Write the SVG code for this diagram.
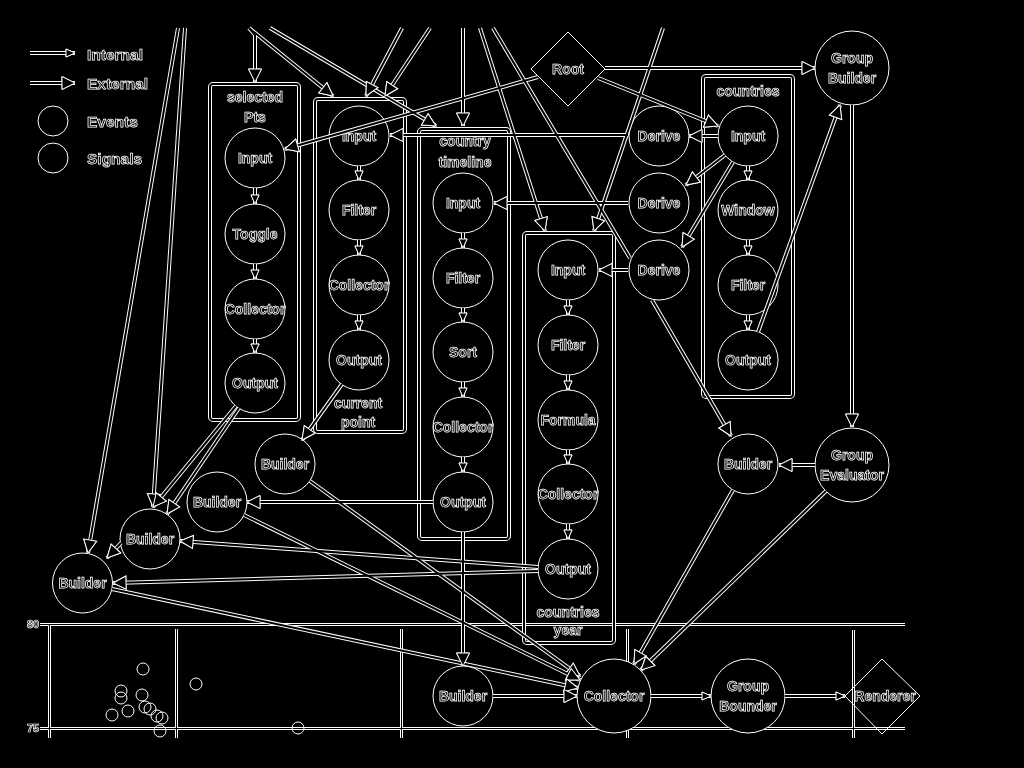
<svg xmlns="http://www.w3.org/2000/svg" xmlns:xlink="http://www.w3.org/1999/xlink" width="1024" height="768" viewBox="0 0 1024 768">
<defs>
<style>
.o{stroke:#fff;stroke-width:4;fill:none}
.i{stroke:#000;stroke-width:2;fill:none}
.co{stroke:#fff;stroke-width:3;fill:none}
.ci{stroke:#000;stroke-width:1;fill:none}
.n{fill:#000;stroke:#fff;stroke-width:1}
.dot{fill:none;stroke:#fff;stroke-width:1}
.t{font-family:"Liberation Sans",Arial,sans-serif;font-weight:bold;font-size:14px;fill:#000;stroke:#fff;stroke-width:0.75;text-anchor:middle;filter:url(#gray)}
.lg{font-family:"Liberation Sans",Arial,sans-serif;font-weight:bold;font-size:15.5px;fill:#000;stroke:#fff;stroke-width:0.75;filter:url(#gray)}
.ax{font-family:"Liberation Sans",Arial,sans-serif;font-weight:bold;font-size:11px;fill:#000;stroke:#fff;stroke-width:0.7;text-anchor:middle;filter:url(#gray)}
</style>
<filter id="gray" x="-20%" y="-40%" width="140%" height="180%" color-interpolation-filters="sRGB"><feColorMatrix type="saturate" values="0"/></filter>
<marker id="ext" markerUnits="userSpaceOnUse" markerWidth="14" markerHeight="14" refX="13" refY="7" orient="auto" overflow="visible"><polygon points="0,0.5 13,7 0,13.5" fill="#000" stroke="#fff" stroke-width="1"/></marker>
<marker id="int" markerUnits="userSpaceOnUse" markerWidth="10" markerHeight="10" refX="9" refY="4" orient="auto" overflow="visible"><polygon points="0,0 9,4 0,8" fill="#000" stroke="#fff" stroke-width="1"/></marker>
</defs>
<rect width="1024" height="768" fill="#000"/>

<!-- chart -->
<g class="co"><g id="chart-lines">
<path d="M40,624.5 L905,624.5"/>
<path d="M40,728.5 L905,728.5"/>
<path d="M49.5,624 L49.5,738"/>
<path d="M176.5,629 L176.5,738"/>
<path d="M401.5,629 L401.5,738"/>
<path d="M627.5,629 L627.5,738"/>
<path d="M853.5,630 L853.5,738"/>
</g></g>
<use href="#chart-lines" xlink:href="#chart-lines" class="ci"/>
<g id="chart-marks">
<circle class="dot" cx="143" cy="669" r="6"/>
<circle class="dot" cx="196" cy="684" r="6"/>
<circle class="dot" cx="121" cy="691" r="6"/>
<circle class="dot" cx="142" cy="695" r="6"/>
<circle class="dot" cx="121" cy="698" r="6"/>
<circle class="dot" cx="128" cy="711" r="6"/>
<circle class="dot" cx="112" cy="715" r="6"/>
<circle class="dot" cx="145" cy="707" r="6"/>
<circle class="dot" cx="150" cy="709" r="6"/>
<circle class="dot" cx="157" cy="716" r="6"/>
<circle class="dot" cx="162" cy="718" r="6"/>
<circle class="dot" cx="160" cy="731" r="6"/>
<circle class="dot" cx="298" cy="728" r="6"/>
<text class="ax" x="33" y="628">80</text>
<text class="ax" x="33" y="732">75</text>
</g>

<!-- legend -->
<g class="o"><g id="legend-lines">
<path d="M30,53 L75,53" marker-end="url(#int)"/>
<path d="M30,83 L75,83" marker-end="url(#ext)"/>
</g></g>
<use href="#legend-lines" xlink:href="#legend-lines" class="i"/>
<g id="legend">
<circle class="dot" cx="53" cy="121" r="15"/>
<circle class="dot" cx="53" cy="158" r="15"/>
<text class="lg" x="87" y="60">Internal</text>
<text class="lg" x="87" y="89">External</text>
<text class="lg" x="87" y="127">Events</text>
<text class="lg" x="87" y="164">Signals</text>
</g>

<!-- boxes -->
<g class="o"><g id="boxes">
<rect x="210" y="84" width="89" height="336" rx="3"/>
<rect x="315" y="99" width="90" height="333" rx="3"/>
<rect x="419" y="129" width="90" height="410" rx="3"/>
<rect x="524" y="233" width="90" height="410" rx="3"/>
<rect x="703" y="76" width="90" height="321" rx="3"/>
</g></g>
<use href="#boxes" xlink:href="#boxes" class="i"/>
<g id="box-labels">
<text class="t" x="255" y="102">selected</text>
<text class="t" x="255" y="122">Pts</text>
<text class="t" x="358" y="408">current</text>
<text class="t" x="358" y="427">point</text>
<text class="t" x="465" y="146">country</text>
<text class="t" x="465" y="167">timeline</text>
<text class="t" x="568" y="617">countries</text>
<text class="t" x="568" y="635">year</text>
<text class="t" x="748" y="96">countries</text>
</g>

<!-- nodes -->
<g id="n-sel-input"><circle class="n" cx="255" cy="158" r="30"/><text class="t" x="255" y="163">Input</text></g>
<g id="n-sel-toggle"><circle class="n" cx="255" cy="234" r="30"/><text class="t" x="255" y="239">Toggle</text></g>
<g id="n-sel-collector"><circle class="n" cx="255" cy="309" r="30"/><text class="t" x="255" y="314">Collector</text></g>
<g id="n-sel-output"><circle class="n" cx="255" cy="383" r="30"/><text class="t" x="255" y="388">Output</text></g>

<g id="n-cp-input"><circle class="n" cx="359" cy="136" r="30"/><text class="t" x="359" y="141">Input</text></g>
<g id="n-cp-filter"><circle class="n" cx="359" cy="210" r="30"/><text class="t" x="359" y="215">Filter</text></g>
<g id="n-cp-collector"><circle class="n" cx="359" cy="285" r="30"/><text class="t" x="359" y="290">Collector</text></g>
<g id="n-cp-output"><circle class="n" cx="359" cy="360" r="30"/><text class="t" x="359" y="365">Output</text></g>

<g id="n-ct-input"><circle class="n" cx="463" cy="203" r="30"/><text class="t" x="463" y="208">Input</text></g>
<g id="n-ct-filter"><circle class="n" cx="463" cy="278" r="30"/><text class="t" x="463" y="283">Filter</text></g>
<g id="n-ct-sort"><circle class="n" cx="463" cy="352" r="30"/><text class="t" x="463" y="357">Sort</text></g>
<g id="n-ct-collector"><circle class="n" cx="463" cy="427" r="30"/><text class="t" x="463" y="432">Collector</text></g>
<g id="n-ct-output"><circle class="n" cx="463" cy="502" r="30"/><text class="t" x="463" y="507">Output</text></g>

<g id="n-cy-input"><circle class="n" cx="568" cy="270" r="30"/><text class="t" x="568" y="275">Input</text></g>
<g id="n-cy-filter"><circle class="n" cx="568" cy="345" r="30"/><text class="t" x="568" y="350">Filter</text></g>
<g id="n-cy-formula"><circle class="n" cx="568" cy="420" r="30"/><text class="t" x="568" y="425">Formula</text></g>
<g id="n-cy-collector"><circle class="n" cx="568" cy="494" r="30"/><text class="t" x="568" y="499">Collector</text></g>
<g id="n-cy-output"><circle class="n" cx="568" cy="569" r="30"/><text class="t" x="568" y="574">Output</text></g>

<g id="n-derive1"><circle class="n" cx="659" cy="136" r="30"/><text class="t" x="659" y="141">Derive</text></g>
<g id="n-derive2"><circle class="n" cx="659" cy="203" r="30"/><text class="t" x="659" y="208">Derive</text></g>
<g id="n-derive3"><circle class="n" cx="659" cy="270" r="30"/><text class="t" x="659" y="275">Derive</text></g>

<g id="n-co-input"><circle class="n" cx="748" cy="136" r="30"/><text class="t" x="748" y="141">Input</text></g>
<g id="n-co-window"><circle class="n" cx="748" cy="210" r="30"/><text class="t" x="748" y="215">Window</text></g>
<g id="n-co-filter"><circle class="n" cx="748" cy="285" r="30"/><text class="t" x="748" y="290">Filter</text></g>
<g id="n-co-output"><circle class="n" cx="748" cy="360" r="30"/><text class="t" x="748" y="365">Output</text></g>

<g id="n-root"><polygon class="n" points="568,32 605,69 568,106 531,69"/><text class="t" x="568" y="74">Root</text></g>
<g id="n-group-builder"><circle class="n" cx="852" cy="68" r="37"/><text class="t" x="852" y="63">Group</text><text class="t" x="852" y="83">Builder</text></g>
<g id="n-group-evaluator"><circle class="n" cx="852" cy="465" r="37"/><text class="t" x="852" y="460">Group</text><text class="t" x="852" y="480">Evaluator</text></g>
<g id="n-builder-r"><circle class="n" cx="748" cy="464" r="30"/><text class="t" x="748" y="469">Builder</text></g>

<g id="n-builder-a"><circle class="n" cx="285" cy="464" r="30"/><text class="t" x="285" y="469">Builder</text></g>
<g id="n-builder-b"><circle class="n" cx="217" cy="502" r="30"/><text class="t" x="217" y="507">Builder</text></g>
<g id="n-builder-c"><circle class="n" cx="150" cy="539" r="30"/><text class="t" x="150" y="544">Builder</text></g>
<g id="n-builder-d"><circle class="n" cx="82.5" cy="583" r="30"/><text class="t" x="82.5" y="588">Builder</text></g>

<g id="n-builder-bottom"><circle class="n" cx="463" cy="696" r="30"/><text class="t" x="463" y="701">Builder</text></g>
<g id="n-collector"><circle class="n" cx="614" cy="696" r="37"/><text class="t" x="614" y="701">Collector</text></g>
<g id="n-group-bounder"><circle class="n" cx="748" cy="696" r="37"/><text class="t" x="748" y="691">Group</text><text class="t" x="748" y="711">Bounder</text></g>
<g id="n-renderer"><polygon class="dot" points="882,659 920,696 882,734 845,696"/><text class="t" x="885" y="701">Renderer</text></g>

<!-- connectors -->
<g class="o"><g id="connectors">
<path d="M178,28 L88,553" marker-end="url(#ext)"/>
<path d="M185,28 L153,507" marker-end="url(#ext)"/>
<path d="M249,28 L255,35 L255,82" marker-end="url(#ext)"/>
<path d="M249,28 L333,96" marker-end="url(#ext)"/>
<path d="M270,28 L436,126" marker-end="url(#ext)"/>
<path d="M402,28 L366,96" marker-end="url(#ext)"/>
<path d="M430,28 L385,96" marker-end="url(#ext)"/>
<path d="M463,28 L463,126" marker-end="url(#ext)"/>
<path d="M480,28 L545,231" marker-end="url(#ext)"/>
<path d="M493,28 L630,258"/>
<path d="M663,28 L594,231" marker-end="url(#ext)"/>

<path d="M538,77 L285,149" marker-end="url(#ext)"/>
<path d="M605,68 L815,68" marker-end="url(#ext)"/>
<path d="M598,78 L718,126" marker-end="url(#ext)"/>

<path d="M718,136 L689,136" marker-end="url(#ext)"/>
<path d="M628,135 L390,135" marker-end="url(#ext)"/>
<path d="M725,155 L686,185" marker-end="url(#ext)"/>
<path d="M628,203 L494,203" marker-end="url(#ext)"/>
<path d="M733,162 L682,247" marker-end="url(#ext)"/>
<path d="M628,270 L599,270" marker-end="url(#ext)"/>
<path d="M652,300 L731,436" marker-end="url(#ext)"/>

<path d="M758,332 L840,105" marker-end="url(#ext)"/>
<path d="M852,105 L852,427" marker-end="url(#ext)"/>
<path d="M815,465 L779,465" marker-end="url(#ext)"/>
<path d="M733,490 L634,664" marker-end="url(#ext)"/>
<path d="M826,491 L641,670" marker-end="url(#ext)"/>

<path d="M236,406 L153,507" marker-end="url(#ext)"/>
<path d="M239,408 L167,514" marker-end="url(#ext)"/>
<path d="M121,543 L107,558" marker-end="url(#ext)"/>
<path d="M342,384 L302,440" marker-end="url(#ext)"/>
<path d="M310,481 L580,676" marker-end="url(#ext)"/>
<path d="M244,515 L580,680" marker-end="url(#ext)"/>
<path d="M112,589 L578,688" marker-end="url(#ext)"/>
<path d="M433,502 L247,502" marker-end="url(#ext)"/>
<path d="M463,532 L463,666" marker-end="url(#ext)"/>
<path d="M493,696 L577,696" marker-end="url(#ext)"/>
<path d="M538,567 L180,541" marker-end="url(#ext)"/>
<path d="M538,571 L113,583" marker-end="url(#ext)"/>
<path d="M651,696 L711,696" marker-end="url(#int)"/>
<path d="M785,696 L845,696" marker-end="url(#int)"/>

<path d="M255,188 L255,204" marker-end="url(#int)"/>
<path d="M255,264 L255,279" marker-end="url(#int)"/>
<path d="M255,339 L255,353" marker-end="url(#int)"/>
<path d="M359,166 L359,180" marker-end="url(#int)"/>
<path d="M359,240 L359,255" marker-end="url(#int)"/>
<path d="M359,315 L359,330" marker-end="url(#int)"/>
<path d="M463,233 L463,248" marker-end="url(#int)"/>
<path d="M463,308 L463,322" marker-end="url(#int)"/>
<path d="M463,382 L463,397" marker-end="url(#int)"/>
<path d="M463,457 L463,472" marker-end="url(#int)"/>
<path d="M568,300 L568,315" marker-end="url(#int)"/>
<path d="M568,375 L568,390" marker-end="url(#int)"/>
<path d="M568,450 L568,464" marker-end="url(#int)"/>
<path d="M568,524 L568,539" marker-end="url(#int)"/>
<path d="M748,166 L748,180" marker-end="url(#int)"/>
<path d="M748,240 L748,255" marker-end="url(#int)"/>
<path d="M748,315 L748,330" marker-end="url(#int)"/>
</g></g>
<use href="#connectors" xlink:href="#connectors" class="i"/>
</svg>
